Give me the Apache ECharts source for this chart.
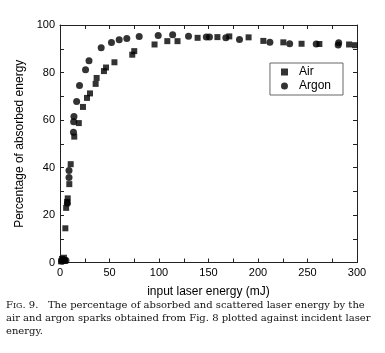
<!DOCTYPE html>
<html>
<head>
<meta charset="utf-8">
<script src="https://cdn.jsdelivr.net/npm/echarts@6/dist/echarts.min.js"></script>
<style>
  html, body { margin: 0; padding: 0; background: #fff; }
  #chart { width: 385px; height: 353px; }
</style>
</head>
<body>
<div id="chart"></div>
<script>
// Air (squares) and Argon (circles): [input energy mJ, percentage absorbed]
var airData = [
  [1, 0.5], [2, 1.5], [3, 1], [4, 2], [5, 0.8], [5.4, 14.4], [6.2, 23], [7.2, 25.5],
  [7.8, 27], [9.4, 33], [10.8, 41.4], [14.4, 53], [19, 58.7], [23.2, 65.5], [27.3, 69.3],
  [30.3, 71.2], [36, 75.2], [37, 77.7], [44.4, 80.6], [46.5, 82.1], [55, 84.3], [73, 87.5],
  [75, 89], [95.5, 91.8], [108.4, 93.2], [118.7, 93.2], [139, 94.6], [159, 94.9], [171, 95.2],
  [190.5, 94.8], [205.4, 93.3], [225.6, 92.7], [244, 92.1], [262, 92], [292, 91.8], [298, 91.5]
];
var argonData = [
  [2, 0.5], [4, 1], [6, 0.8], [7.5, 25], [9.1, 38.7], [9.1, 35.8], [13.6, 54.8], [13.8, 59.3],
  [14.1, 61.5], [16.8, 67.8], [19.7, 74.5], [25.8, 81.2], [29.3, 85], [41.6, 90.4], [52, 92.6],
  [59.8, 93.8], [67.5, 94.3], [80, 95.2], [99.2, 95.6], [113.8, 95.9], [129.8, 95.3], [147.8, 95],
  [151, 95], [167.5, 94.6], [181.3, 93.9], [212, 92.7], [232, 92.1], [258.8, 92], [281, 91.6],
  [281.5, 92.5]
];
var xTicks = [0, 50, 100, 150, 200, 250, 300];
var yTicks = [0, 20, 40, 60, 80, 100];
var captionLines = [
  'The percentage of absorbed and scattered laser energy by the',
  'air and argon sparks obtained from Fig. 8 plotted against incident laser',
  'energy.'
];

var axisColor = '#222';
var tickStyle = { show: true, inside: true, length: 4, lineStyle: { color: axisColor } };
var minorStyle = { show: true, splitNumber: 2, length: 4, lineStyle: { color: axisColor } };

var myChart = echarts.init(document.getElementById('chart'));

var option = {
  backgroundColor: '#fff',
  animation: false,
  grid: { left: 60, right: 28, top: 25, bottom: 90.5 },
  legend: {
    orient: 'vertical',
    right: 42,
    top: 63,
    itemWidth: 7,
    itemHeight: 7,
    itemGap: 2,
    padding: [3, 12, 3, 11],
    borderColor: '#666',
    borderWidth: 1,
    textStyle: { fontFamily: 'Liberation Sans', fontSize: 12, color: '#000', padding: [0, 0, 0, 6] },
    data: [
      { name: 'Air', icon: 'rect' },
      { name: 'Argon', icon: 'circle' }
    ]
  },
  xAxis: [{
    type: 'value', min: 0, max: 300, interval: 50,
    name: 'input laser energy (mJ)', nameLocation: 'middle', nameGap: 23,
    nameTextStyle: { fontFamily: 'Liberation Sans', fontSize: 12, color: '#000' },
    axisLine: { show: true, onZero: false, lineStyle: { color: axisColor } },
    axisTick: tickStyle, minorTick: minorStyle,
    axisLabel: {
      fontFamily: 'Liberation Sans', fontSize: 11, color: '#000', margin: 5,
      formatter: function (v) { return xTicks.indexOf(v) >= 0 ? String(v) : ''; }
    },
    splitLine: { show: false }
  }, {
    type: 'value', position: 'top', min: 0, max: 300, interval: 50,
    axisLine: { show: true, onZero: false, lineStyle: { color: axisColor } },
    axisTick: tickStyle, minorTick: minorStyle,
    axisLabel: { show: false }, splitLine: { show: false }
  }],
  yAxis: [{
    type: 'value', min: 0, max: 100, interval: 20,
    name: 'Percentage of absorbed energy', nameLocation: 'middle', nameGap: 24,
    nameTextStyle: { fontFamily: 'Liberation Sans', fontSize: 12, color: '#000' },
    axisLine: { show: true, onZero: false, lineStyle: { color: axisColor } },
    axisTick: tickStyle, minorTick: minorStyle,
    axisLabel: {
      fontFamily: 'Liberation Sans', fontSize: 11, color: '#000', margin: 5,
      formatter: function (v) { return yTicks.indexOf(v) >= 0 ? String(v) : ''; }
    },
    splitLine: { show: false }
  }, {
    type: 'value', position: 'right', min: 0, max: 100, interval: 20,
    axisLine: { show: true, onZero: false, lineStyle: { color: axisColor } },
    axisTick: tickStyle, minorTick: minorStyle,
    axisLabel: { show: false }, splitLine: { show: false }
  }],
  series: [{
    name: 'Air', type: 'scatter', symbol: 'rect', symbolSize: 6,
    itemStyle: { color: '#000' }, data: airData
  }, {
    name: 'Argon', type: 'scatter', symbol: 'circle', symbolSize: 7,
    itemStyle: { color: '#000' }, data: argonData
  }],
  graphic: [{
    type: 'text', left: 6, top: 299,
    style: {
      text: '{sc|F}{sm|IG}{sc|. 9.}   ' + captionLines[0] + '\n' + captionLines[1] + '\n' + captionLines[2],
      fontFamily: 'DejaVu Serif', fontSize: 10, lineHeight: 13, fill: '#111',
      rich: {
        sc: { fontFamily: 'DejaVu Serif', fontSize: 10, fill: '#111' },
        sm: { fontFamily: 'DejaVu Serif', fontSize: 8, fill: '#111' }
      }
    }
  }]
};

myChart.setOption(option);
</script>
</body>
</html>
